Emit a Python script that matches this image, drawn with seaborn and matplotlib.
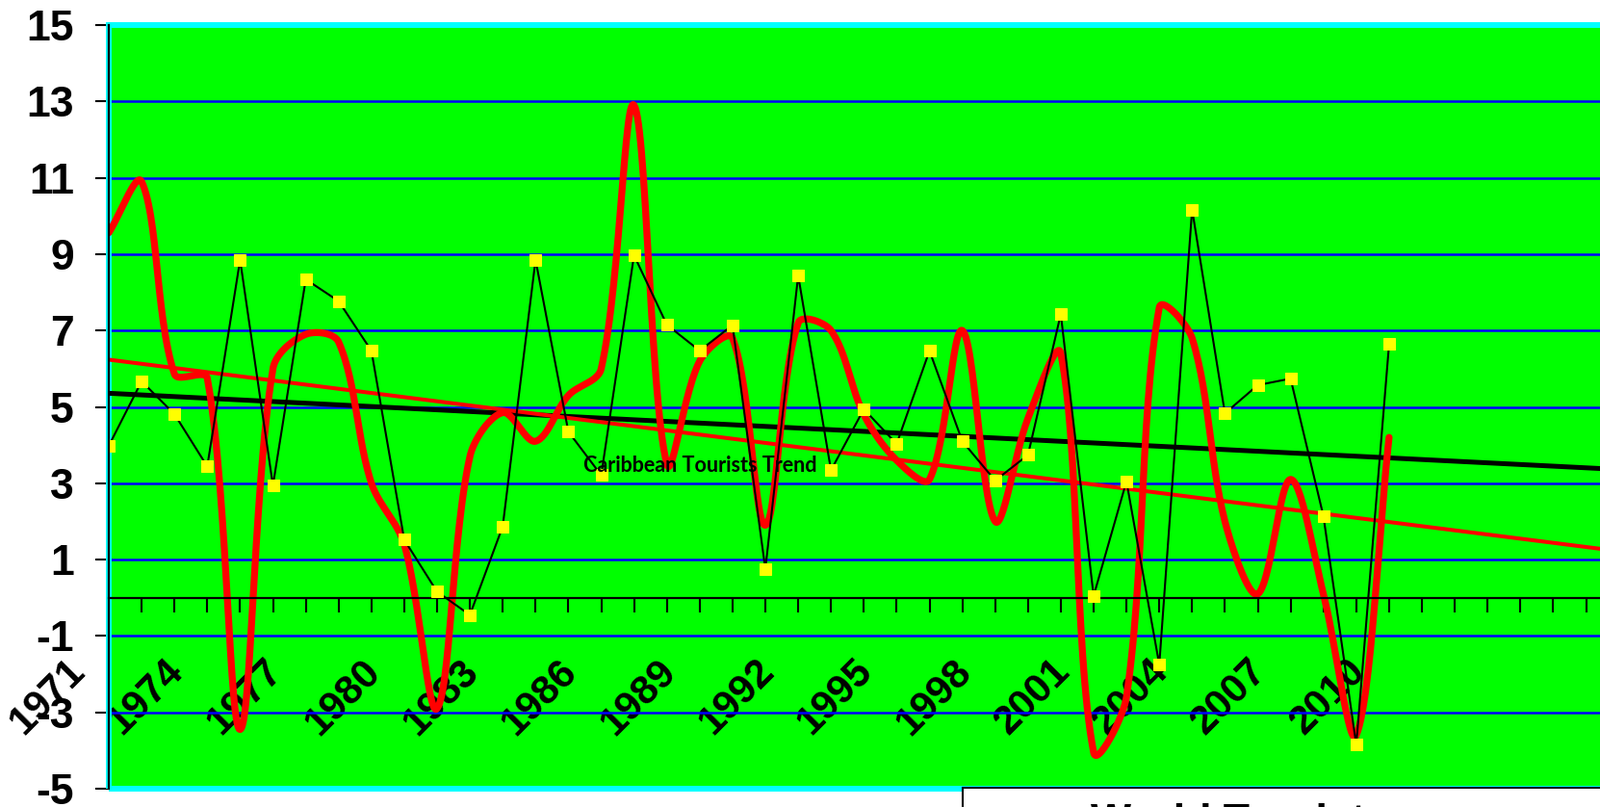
import numpy as np
import pandas as pd
import matplotlib
matplotlib.use('Agg')
import matplotlib.pyplot as plt
import matplotlib.transforms as mtransforms
from matplotlib.patches import Rectangle
from matplotlib.lines import Line2D
import seaborn as sns

# =============================================================================
# Data (annual growth, %)
# =============================================================================

years = list(range(1971, 2011))

# yellow markers / thin black line
world_growth = [3.98, 5.67, 4.81, 3.44, 8.85, 2.94, 8.34, 7.77, 6.47, 1.52,
                0.16, -0.45, 1.87, 8.85, 4.35, 3.21, 8.97, 7.15, 6.47, 7.14,
                0.75, 8.44, 3.34, 4.94, 4.03, 6.47, 4.10, 3.07, 3.74, 7.43,
                0.05, 3.05, -1.75, 10.17, 4.83, 5.57, 5.74, 2.14, -3.85, 6.64]

# thick smoothed red line
caribbean_growth = [9.56, 10.9, 5.86, 5.75, -3.45, 6.0, 6.9, 6.7, 3.0, 1.4,
                    -2.9, 3.7, 4.85, 4.1, 5.3, 6.0, 12.9, 3.5, 6.2, 6.8,
                    1.9, 7.2, 7.0, 4.8, 3.6, 3.1, 7.0, 2.0, 4.7, 6.4,
                    -4.05, -2.6, 7.6, 6.8, 2.0, 0.1, 3.1, 0.1, -3.6, 4.2]

y_ticks = list(range(-5, 16, 2))
label_step = 3
n_categories = 48          # category axis runs past the data (forecast part)
trend_label = 'Caribbean Tourists Trend'
legend_label = 'World Tourists'

df = pd.DataFrame({'idx': np.arange(len(years)), 'year': years,
                   'world': world_growth, 'caribbean': caribbean_growth})


def excel_smooth(values, sx, sy, n=30):
    # Excel style smoothed line: bezier through every point, control arms
    # weighted by the (screen) length of the neighbouring segments
    P = np.column_stack([np.arange(len(values), dtype=float) * sx,
                         np.asarray(values, dtype=float) * sy])
    m = len(P)
    c_in = np.zeros_like(P)
    c_out = np.zeros_like(P)
    for i in range(m):
        prev = P[i - 1] if i > 0 else P[i]
        nxt = P[i + 1] if i < m - 1 else P[i]
        d0 = np.hypot(*(P[i] - prev))
        d1 = np.hypot(*(nxt - P[i]))
        tan = nxt - prev
        tot = d0 + d1
        c_in[i] = P[i] - tan * (d0 / tot) / 3
        c_out[i] = P[i] + tan * (d1 / tot) / 3
    out = []
    for i in range(m - 1):
        t = np.linspace(0, 1, n, endpoint=(i == m - 2))[:, None]
        out.append((1 - t) ** 3 * P[i] + 3 * (1 - t) ** 2 * t * c_out[i]
                   + 3 * (1 - t) * t ** 2 * c_in[i + 1] + t ** 3 * P[i + 1])
    pts = np.vstack(out)
    return pts[:, 0] / sx, pts[:, 1] / sy


# =============================================================================
# Plot
# =============================================================================

sns.set_theme(style='white')
plt.rcParams['font.family'] = ['Liberation Sans', 'DejaVu Sans']
plt.rcParams['axes.unicode_minus'] = False
for key in ['text.color', 'axes.labelcolor', 'xtick.color', 'ytick.color']:
    plt.rcParams[key] = 'black'

DPI = 100
W, H = 1662, 838
fig = plt.figure(figsize=(W / DPI, H / DPI), dpi=DPI)

left_px, top_px, bottom_px = 113, 26, 819
px_per_cat = 34.1
px_per_unit = (bottom_px - top_px) / 20
right_px = left_px + n_categories * px_per_cat
ax = fig.add_axes([left_px / W, (H - bottom_px) / H,
                   (right_px - left_px) / W, (bottom_px - top_px) / H])
ax.set_facecolor('#00ff00')

# spines first (moving a spine resets the ticks)
for s in ['top', 'right']:
    ax.spines[s].set_visible(False)
ax.spines['bottom'].set_position(('data', 0))
ax.spines['bottom'].set_color('black')
ax.spines['bottom'].set_linewidth(1.6)
ax.spines['left'].set_color('black')
ax.spines['left'].set_linewidth(1.6)
ax.spines['left'].set_zorder(4)

ax.set_xlim(0, n_categories)
ax.set_ylim(-5, 15)

# linear trends, extended over the whole category axis
sns.regplot(data=df, x='idx', y='world', ax=ax, scatter=False, ci=None,
            truncate=False, line_kws=dict(color='black', lw=3.6, zorder=2))
sns.regplot(data=df, x='idx', y='caribbean', ax=ax, scatter=False, ci=None,
            truncate=False, line_kws=dict(color='#ff0000', lw=2.9, zorder=2.1))

# smoothed red series
cx, cy = excel_smooth(caribbean_growth, px_per_cat, px_per_unit)
sns.lineplot(x=cx, y=cy, ax=ax, sort=False, estimator=None,
             color='#ff0000', lw=5.2, zorder=2.2)

# yellow marker series
sns.lineplot(data=df, x='idx', y='world', ax=ax, color='black', lw=1.5,
             marker='s', markersize=9, markerfacecolor='#ffff00',
             markeredgecolor='#ffff00', zorder=3)

ax.text(18, 3.47, trend_label, ha='center', va='center', fontsize=15.5,
        fontweight='bold', color='black', family=['Lato', 'DejaVu Sans'],
        zorder=6)

ax.set_xlim(0, n_categories)
ax.set_ylim(-5, 15)
ax.set_xlabel('')
ax.set_ylabel('')

# y axis
ax.tick_params(axis='y', direction='out', length=10, width=1.5,
               color='black', labelcolor='black', pad=16, left=True)
ax.set_yticks(y_ticks)
ax.set_yticklabels([str(v) for v in y_ticks], fontsize=32, fontweight='bold')
ax.yaxis.grid(True, color='#0000ff', lw=1.8)
ax.xaxis.grid(False)
ax.set_axisbelow(True)

# x axis crosses at zero
ax.tick_params(axis='x', direction='out', length=10.8, width=1.5,
               color='black', labelcolor='black', pad=40, bottom=True,
               labelsize=30, labelrotation=45)
cats = np.arange(n_categories + 1)
xlabels = [str(years[i]) if i < len(years) and i % label_step == 0 else ''
           for i in cats]
ax.set_xticks(cats)
ax.set_xticklabels(xlabels, fontsize=30, fontweight='bold', rotation=45,
                   rotation_mode='anchor', ha='right', va='center')

# cyan plot-area border
ax.add_patch(Rectangle((0, 0), 1, 1, transform=ax.transAxes, fill=False,
                       edgecolor='#00ffff', lw=4.3, clip_on=False, zorder=1.5))

# legend box (mostly below the picture edge, wider than the picture)
handle = Line2D([], [], color='black', lw=1.5, marker='s', markersize=9,
                markerfacecolor='#ffff00', markeredgecolor='#ffff00')
leg = fig.legend(handles=[handle], labels=[legend_label], loc='upper left',
                 bbox_to_anchor=(1000 / W, 0, 800 / W, 1 - 818 / H),
                 bbox_transform=fig.transFigure, mode='expand',
                 borderaxespad=0, frameon=True, fancybox=False,
                 edgecolor='black', facecolor='white', framealpha=1,
                 borderpad=0.37, handlelength=1.82, handletextpad=0.8,
                 prop=dict(family='Liberation Sans', weight='bold', size=32))
leg.get_frame().set_linewidth(1.5)

# shift rotated year labels left, like the original
offset = mtransforms.ScaledTranslation(-31 / DPI, 0, fig.dpi_scale_trans)
for lab in ax.get_xticklabels():
    lab.set_transform(lab.get_transform() + offset)

fig.savefig('out.png', dpi=DPI)
